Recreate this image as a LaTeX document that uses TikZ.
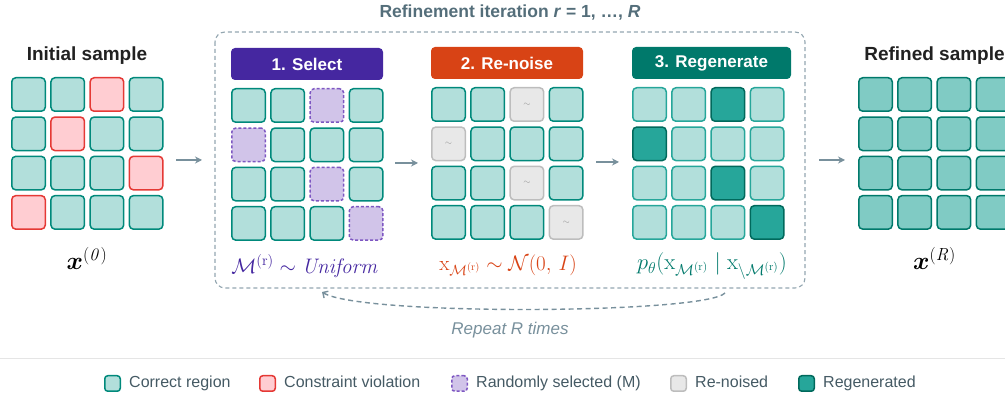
\documentclass[tikz,border=0pt]{standalone}
\usepackage{fix-cm}
\usepackage[no-math]{fontspec}
\setmainfont{Liberation Sans}
\usepackage{amsmath}
\usetikzlibrary{arrows.meta,positioning}

\definecolor{okfill}{HTML}{B2DFDB}
\definecolor{okline}{HTML}{00897B}
\definecolor{badfill}{HTML}{FFCDD2}
\definecolor{badline}{HTML}{E53935}
\definecolor{selfill}{HTML}{D1C4E9}
\definecolor{selline}{HTML}{7E57C2}
\definecolor{noisefill}{HTML}{E8E8E8}
\definecolor{noiseline}{HTML}{BDBDBD}
\definecolor{genfill}{HTML}{26A69A}
\definecolor{genline}{HTML}{00695C}
\definecolor{keepline}{HTML}{26A69A}
\definecolor{donefill}{HTML}{80CBC4}
\definecolor{doneline}{HTML}{00796B}
\definecolor{selcol}{HTML}{4527A0}
\definecolor{noisecol}{HTML}{D84315}
\definecolor{gencol}{HTML}{00796B}
\definecolor{slate}{HTML}{78909C}
\definecolor{slatedark}{HTML}{546E7A}
\definecolor{ink}{HTML}{212121}
\definecolor{keyink}{HTML}{455A64}

\tikzset{
  cell/.style={rectangle, rounded corners=4pt, minimum size=33.5pt, line width=1.5pt, inner sep=0pt},
  okbox/.style={cell, draw=okline, fill=okfill},
  badbox/.style={cell, draw=badline, fill=badfill},
  selbox/.style={cell, draw=selline, fill=selfill, dash pattern=on 3pt off 2pt},
  noisebox/.style={cell, draw=noiseline, fill=noisefill},
  noisybox/.style={noisebox, label={[text=noiseline!80!black, font=\fontsize{9}{9}\selectfont]center:$\sim$}},
  genbox/.style={cell, draw=genline, fill=genfill},
  keepbox/.style={cell, draw=keepline, fill=okfill},
  donebox/.style={cell, draw=doneline, fill=donefill},
  head/.style={rectangle, rounded corners=4pt, minimum height=32pt, inner sep=0pt, text=white, font=\bfseries\fontsize{17}{20}\selectfont},
  title/.style={text=ink, font=\bfseries\fontsize{19}{22}\selectfont},
  formula/.style={font=\fontsize{21}{25}\selectfont},
  flow/.style={draw=slate, line width=1.6pt, -{Stealth[length=7pt,width=7pt]}},
  keytext/.style={inner sep=0pt, text height=11.5pt, text depth=3.5pt, text=keyink, font=\fontsize{16}{19}\selectfont}
}

\begin{document}
\begin{tikzpicture}[x=1pt, y=-1pt]
  \useasboundingbox (0,0) rectangle (1005,395);
  \node[title] (inittitle) at (87,56) {Initial sample};
  \node[title] (donetitle) at (934.5,56) {Refined sample};
  \node[text=slatedark, font=\bfseries\fontsize{17.5}{21}\selectfont] (looptitle) at (510,13) {Refinement iteration \textit{r} = 1, …, \textit{R}};
  \draw[slate!80, line width=1.1pt, dash pattern=on 4pt off 3pt, rounded corners=10pt] (215,32) rectangle (805,288);

  \foreach \t [count=\k from 0] in {okbox,okbox,badbox,okbox, okbox,badbox,okbox,okbox, okbox,okbox,okbox,badbox, badbox,okbox,okbox,okbox}
    \node[\t] (init\k) at ({28.5+39.2*mod(\k,4)},{94.5+39.3*int(\k/4)}) {};
  \foreach \t [count=\k from 0] in {okbox,okbox,selbox,okbox, selbox,okbox,okbox,okbox, okbox,okbox,selbox,okbox, okbox,okbox,okbox,selbox}
    \node[\t] (sel\k) at ({248.5+39.2*mod(\k,4)},{105.5+39.3*int(\k/4)}) {};
  \foreach \t [count=\k from 0] in {okbox,okbox,noisybox,okbox, noisybox,okbox,okbox,okbox, okbox,okbox,noisybox,okbox, okbox,okbox,okbox,noisybox}
    \node[\t] (noise\k) at ({448.5+39.2*mod(\k,4)},{104.5+39.3*int(\k/4)}) {};
  \foreach \t [count=\k from 0] in {keepbox,keepbox,genbox,keepbox, genbox,keepbox,keepbox,keepbox, keepbox,keepbox,genbox,keepbox, keepbox,keepbox,keepbox,genbox}
    \node[\t] (gen\k) at ({649.5+39.2*mod(\k,4)},{104.5+39.3*int(\k/4)}) {};
  \foreach \k in {0,...,15}
    \node[donebox] (done\k) at ({875.5+39.2*mod(\k,4)},{94.5+39.3*int(\k/4)}) {};

  \node[head, fill=selcol, minimum width=152pt] (selhead) at (307,64) {1. Select};
  \node[head, fill=noisecol, minimum width=152pt] (noisehead) at (507,63) {2. Re-noise};
  \node[head, fill=gencol, minimum width=159pt] (genhead) at (711.5,63) {3. Regenerate};

  \node[formula] (initlab) at (87,258) {\fontsize{25}{30}\selectfont$\boldsymbol{x}^{\mathit{(0)}}$};
  \node[formula] (donelab) at (934.5,258) {\fontsize{25}{30}\selectfont$\boldsymbol{x}^{\mathit{(R)}}$};
  \node[formula, text=selcol] (sellab) at (305,266) {$\mathcal{M}^{(\mathrm{r})} \sim \mathit{Uniform}$};
  \node[formula, text=noisecol] (noiselab) at (508,265) {$\mathrm{x}_{\mathcal{M}^{(\mathrm{r})}} \sim \mathcal{N}(0,\, I)$};
  \node[formula, text=gencol] (genlab) at (712,266) {\fontsize{22.5}{27}\selectfont$p_\theta(\mathrm{x}_{\mathcal{M}^{(\mathrm{r})}} \mid \mathrm{x}_{\setminus\mathcal{M}^{(\mathrm{r})}})$};

  \foreach \a/\xa/\xb/\y in {1/176/202/160, 2/395/418/163, 3/596/619/162, 4/819/845/160} {
    \coordinate (from\a) at (\xa,\y);
    \coordinate (to\a) at (\xb,\y);
    \draw[flow] (from\a) -- (to\a);
  }

  \coordinate (loopstart) at (725,293);
  \coordinate (loopend) at (322,292);
  \draw[slate, line width=1.4pt, dash pattern=on 5pt off 3.5pt, -{Straight Barb[length=4pt,width=8pt]}]
    (loopstart) .. controls (705,314) and (360,316) .. (loopend);
  \node[text=slate, font=\itshape\fontsize{17}{20}\selectfont] (looplab) at (510,330) {Repeat R times};

  \draw[black!10, line width=1pt] (0,359) -- (1005,359);
  \foreach \s/\lab/\x [count=\i] in {okbox/Correct region/112.5, badbox/Constraint violation/267.5, selbox/Randomly selected (M)/459.5, noisebox/Re-noised/678.5, genbox/Regenerated/806.5} {
    \node[\s, minimum size=15.5pt, rounded corners=3pt] (key\i) at (\x,383.5) {};
    \node[keytext, right=8pt of key\i] (keytext\i) {\lab};
  }
\end{tikzpicture}
\end{document}
